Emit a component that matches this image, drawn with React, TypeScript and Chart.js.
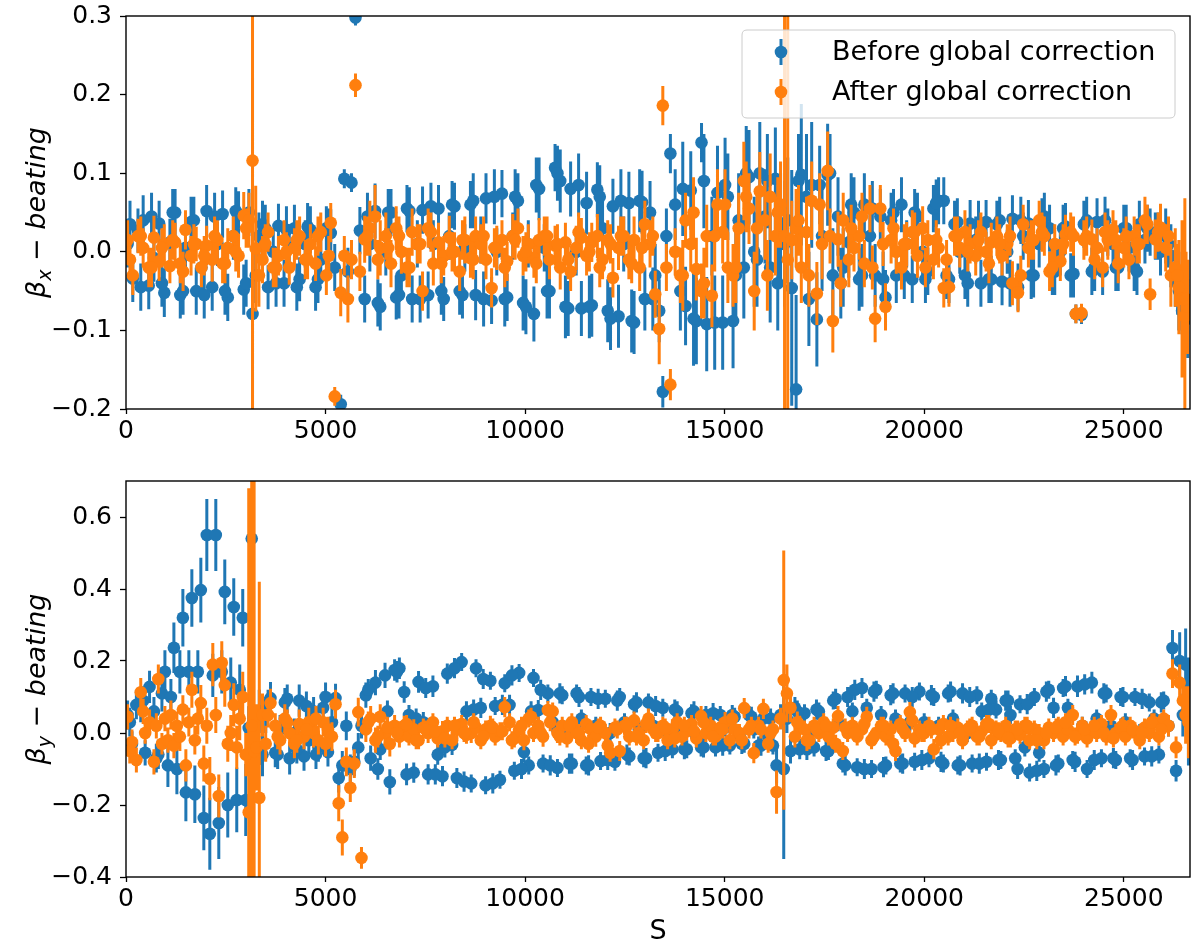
import React, { useEffect, useRef } from 'react';
import { Chart, registerables } from 'chart.js';

Chart.register(...registerables);

const BLUE = '#1f77b4';
const ORANGE = '#ff7f0e';
const FONT = "'DejaVu Sans', sans-serif";

const LEGEND_LABELS = ['Before global correction', 'After global correction'];
const X_TICKS = [0, 5000, 10000, 15000, 20000, 25000];
const BX_TICKS = [-0.2, -0.1, 0.0, 0.1, 0.2, 0.3];
const BY_TICKS = [-0.4, -0.2, 0.0, 0.2, 0.4, 0.6];
const S_MAX = 26659;

// ---------- top panel: beta_x beating (main BPM set) ----------
const S_X = [
  40, 170, 300, 430, 570, 700, 830, 960, 1100, 1230,
  1360, 1490, 1630, 1760, 1890, 2020, 2160, 2290, 2420, 2550,
  2690, 2820, 2950, 3080, 3170, 3250, 3330, 3420, 3560, 3690,
  3820, 3960, 4090, 4220, 4350, 4490, 4620, 4750, 4880, 5020,
  5130, 5230, 5380, 5470, 5560, 5650, 5750, 5860, 5980, 6110,
  6240, 6370, 6510, 6640, 6770, 6900, 7040, 7170, 7300, 7430,
  7570, 7700, 7830, 7960, 8100, 8230, 8360, 8490, 8630, 8760,
  8890, 9020, 9160, 9290, 9420, 9550, 9690, 9820, 9950, 10080,
  10220, 10350, 10480, 10610, 10750, 10880, 11010, 11140, 11280, 11410,
  11540, 11670, 11810, 11940, 12070, 12200, 12340, 12470, 12600, 12730,
  12870, 13000, 13130, 13260, 13360, 13450, 13540, 13640, 13760, 13890,
  14020, 14150, 14290, 14420, 14550, 14680, 14820, 14950, 15080, 15210,
  15350, 15480, 15610, 15740, 15880, 16010, 16140, 16270, 16400, 16500,
  16580, 16680, 16790, 16920, 17050, 17180, 17310, 17440, 17580, 17710,
  17840, 17970, 18110, 18240, 18370, 18500, 18640, 18770, 18900, 19030,
  19170, 19300, 19430, 19560, 19700, 19830, 19960, 20090, 20230, 20360,
  20490, 20620, 20760, 20890, 21020, 21150, 21290, 21420, 21550, 21680,
  21820, 21950, 22080, 22210, 22350, 22480, 22610, 22740, 22880, 23010,
  23140, 23270, 23410, 23540, 23670, 23800, 23940, 24070, 24200, 24330,
  24470, 24600, 24730, 24860, 25000, 25130, 25260, 25390, 25530, 25660,
  25790, 25920, 26050, 26180, 26290, 26380, 26460, 26530, 26600,
];

const BX_BEFORE = [
  0.01, -0.034, 0.027, 0.04, -0.043, -0.008, 0.036, -0.052, 0.012, 0.05,
  -0.055, 0.005, 0.038, -0.05, -0.02, 0.052, -0.045, 0.01, 0.048, -0.058,
  0.02, 0.047, -0.048, 0.05, -0.079, -0.03, 0.02, 0.035, -0.045, 0.0,
  0.033, -0.04, 0.005, 0.03, -0.035, 0.01, 0.028, -0.045, -0.01, 0.03,
  0.024, -0.02, -0.194, 0.093, -0.025, 0.088, 0.298, 0.027, -0.06, 0.01,
  0.052, -0.07, 0.0, 0.05, -0.058, -0.03, 0.055, -0.06, 0.01, 0.053,
  -0.055, 0.01, 0.055, -0.06, 0.02, 0.058, -0.05, 0.005, 0.06, -0.055,
  0.015, 0.068, -0.062, 0.0, 0.074, -0.058, 0.02, 0.065, -0.065, 0.01,
  -0.079, 0.08, 0.005, -0.05, 0.107, 0.09, -0.07, 0.08, 0.0, -0.072,
  0.062, -0.068, 0.079, 0.03, -0.075, 0.058, -0.082, 0.01, 0.062, -0.09,
  0.065, -0.06, 0.05, -0.03, -0.075, -0.178, 0.02, 0.125, 0.06, -0.05,
  -0.069, 0.078, -0.088, 0.139, -0.092, 0.02, 0.075, -0.09, 0.07, -0.088,
  0.04, -0.02, 0.095, 0.0, 0.1, 0.045, -0.02, 0.093, 0.03, 0.01,
  0.04, -0.046, -0.175, 0.098, 0.07, 0.085, -0.086, 0.02, 0.098, -0.03,
  0.045, -0.02, 0.012, 0.05, -0.035, 0.06, 0.02, -0.03, 0.045, -0.058,
  0.04, -0.03, 0.06, 0.01, -0.035, 0.045, 0.0, -0.025, 0.055, 0.065,
  0.065, -0.035, 0.035, 0.0, -0.03, 0.036, 0.015, -0.04, 0.038, -0.035,
  0.035, -0.038, 0.0, 0.042, -0.045, 0.02, 0.036, -0.03, 0.01, 0.045,
  0.03, -0.025, 0.0, 0.032, -0.03, -0.079, -0.08, 0.04, -0.025, 0.038,
  -0.025, 0.025, 0.01, -0.02, 0.03, 0.005, -0.02, 0.035, 0.015, 0.025,
  0.02, 0.0, 0.02, -0.005, -0.03, -0.05, -0.075, -0.06, -0.085,
];

const BX_AFTER = [
  0.015, -0.03, 0.02, 0.005, -0.02, 0.018, -0.012, 0.01, -0.018, 0.012,
  -0.015, 0.028, -0.005, 0.01, -0.02, 0.008, -0.01, 0.015, -0.015, 0.005,
  0.02, -0.005, 0.046, 0.04, 0.116, 0.004, -0.03, -0.01, 0.025, -0.02,
  -0.005, 0.015, -0.02, 0.005, 0.02, -0.01, 0.01, -0.015, 0.025, -0.03,
  0.037, -0.184, -0.052, -0.005, -0.06, -0.01, 0.212, -0.025, 0.016, 0.03,
  0.045, 0.005, 0.02, -0.015, 0.03, 0.0, -0.02, 0.025, 0.01, -0.05,
  0.03, -0.015, 0.012, -0.005, 0.018, 0.0, -0.025, 0.015, -0.008, 0.02,
  0.01, -0.01, -0.046, 0.005, 0.015, -0.012, 0.02, 0.03, -0.005, 0.01,
  -0.008, 0.015, 0.02, -0.01, 0.008, -0.02, 0.012, -0.025, 0.005, 0.018,
  -0.005, 0.012, 0.02, -0.01, 0.015, -0.033, 0.005, 0.02, -0.01, 0.015,
  -0.02, 0.035, 0.01, -0.054, -0.098, 0.186, -0.02, -0.169, 0.0, -0.03,
  0.04, 0.01, -0.022, -0.05, 0.02, -0.056, 0.06, 0.025, -0.02, -0.03,
  0.03, 0.09, 0.055, -0.05, 0.077, 0.04, 0.07, 0.02, 0.06, 0.02,
  -0.01, 0.015, 0.03, -0.02, 0.025, 0.065, -0.053, 0.01, 0.103, -0.088,
  0.016, 0.04, -0.01, 0.005, 0.02, -0.015, 0.055, -0.085, 0.055, -0.07,
  0.015, 0.0, -0.02, 0.01, 0.025, -0.005, 0.03, 0.015, -0.01, 0.005,
  -0.046, -0.045, 0.02, 0.005, 0.025, 0.01, -0.005, 0.025, 0.0, 0.012,
  0.02, -0.005, 0.01, -0.04, -0.052, 0.035, 0.005, 0.015, 0.04, 0.02,
  -0.025, 0.01, -0.012, 0.022, 0.025, -0.079, -0.078, 0.02, 0.016, 0.005,
  -0.02, 0.015, 0.028, -0.015, 0.005, -0.01, 0.02, 0.01, 0.04, -0.054,
  0.016, 0.031, 0.005, -0.03, -0.02, -0.045, -0.06, -0.082, -0.07,
];

const BX_BEFORE_ERR = [
  0.03, 0.03, 0.028, 0.032, 0.03, 0.03, 0.029, 0.031, 0.03, 0.03,
  0.03, 0.028, 0.032, 0.03, 0.03, 0.033, 0.03, 0.028, 0.03, 0.03,
  0.03, 0.03, 0.032, 0.03, 0.3, 0.035, 0.03, 0.03, 0.028, 0.03,
  0.028, 0.03, 0.03, 0.03, 0.028, 0.03, 0.03, 0.03, 0.03, 0.028,
  0.03, 0.03, 0.012, 0.012, 0.03, 0.012, 0.01, 0.03, 0.03, 0.035,
  0.035, 0.03, 0.03, 0.03, 0.028, 0.03, 0.03, 0.03, 0.03, 0.03,
  0.03, 0.03, 0.03, 0.028, 0.03, 0.03, 0.03, 0.03, 0.03, 0.032,
  0.03, 0.032, 0.03, 0.03, 0.03, 0.03, 0.03, 0.035, 0.035, 0.03,
  0.035, 0.04, 0.03, 0.035, 0.03, 0.04, 0.04, 0.035, 0.03, 0.035,
  0.04, 0.04, 0.035, 0.035, 0.04, 0.035, 0.04, 0.035, 0.04, 0.04,
  0.04, 0.04, 0.04, 0.04, 0.04, 0.02, 0.035, 0.025, 0.045, 0.05,
  0.05, 0.05, 0.055, 0.025, 0.06, 0.05, 0.06, 0.06, 0.055, 0.06,
  0.06, 0.065, 0.06, 0.07, 0.065, 0.06, 0.07, 0.065, 0.07, 0.08,
  0.08, 0.15, 0.12, 0.09, 0.08, 0.08, 0.06, 0.07, 0.065, 0.06,
  0.05, 0.05, 0.045, 0.045, 0.04, 0.04, 0.04, 0.04, 0.035, 0.035,
  0.035, 0.035, 0.035, 0.03, 0.03, 0.03, 0.03, 0.03, 0.03, 0.03,
  0.03, 0.03, 0.03, 0.028, 0.03, 0.03, 0.03, 0.03, 0.028, 0.03,
  0.03, 0.03, 0.028, 0.03, 0.03, 0.03, 0.03, 0.028, 0.03, 0.03,
  0.03, 0.03, 0.03, 0.03, 0.028, 0.012, 0.012, 0.03, 0.03, 0.03,
  0.03, 0.03, 0.028, 0.03, 0.03, 0.03, 0.03, 0.03, 0.03, 0.03,
  0.03, 0.03, 0.035, 0.04, 0.04, 0.05, 0.03, 0.05, 0.05,
];

const BX_AFTER_ERR = [
  0.025, 0.025, 0.022, 0.025, 0.025, 0.028, 0.025, 0.025, 0.022, 0.025,
  0.025, 0.025, 0.025, 0.022, 0.025, 0.025, 0.028, 0.025, 0.025, 0.025,
  0.025, 0.028, 0.03, 0.035, 0.6, 0.08, 0.04, 0.03, 0.025, 0.025,
  0.025, 0.025, 0.022, 0.025, 0.025, 0.025, 0.025, 0.022, 0.025, 0.025,
  0.025, 0.012, 0.03, 0.025, 0.03, 0.025, 0.015, 0.025, 0.03, 0.035,
  0.04, 0.035, 0.03, 0.03, 0.028, 0.028, 0.025, 0.03, 0.025, 0.025,
  0.025, 0.028, 0.025, 0.025, 0.028, 0.025, 0.025, 0.03, 0.025, 0.025,
  0.025, 0.025, 0.025, 0.028, 0.025, 0.025, 0.028, 0.025, 0.025, 0.025,
  0.025, 0.028, 0.025, 0.025, 0.025, 0.028, 0.025, 0.025, 0.028, 0.025,
  0.025, 0.025, 0.028, 0.025, 0.025, 0.025, 0.028, 0.025, 0.025, 0.03,
  0.03, 0.03, 0.03, 0.03, 0.045, 0.025, 0.03, 0.02, 0.03, 0.035,
  0.035, 0.035, 0.04, 0.035, 0.04, 0.04, 0.045, 0.04, 0.045, 0.04,
  0.045, 0.05, 0.045, 0.05, 0.05, 0.05, 0.055, 0.05, 0.055, 0.9,
  0.8, 0.05, 0.05, 0.045, 0.045, 0.05, 0.04, 0.045, 0.05, 0.04,
  0.035, 0.035, 0.035, 0.03, 0.03, 0.03, 0.03, 0.03, 0.03, 0.03,
  0.03, 0.028, 0.028, 0.028, 0.028, 0.028, 0.028, 0.025, 0.025, 0.025,
  0.025, 0.025, 0.025, 0.025, 0.028, 0.025, 0.025, 0.025, 0.025, 0.025,
  0.025, 0.025, 0.025, 0.028, 0.025, 0.025, 0.025, 0.025, 0.025, 0.025,
  0.025, 0.025, 0.025, 0.025, 0.025, 0.012, 0.012, 0.025, 0.025, 0.025,
  0.025, 0.025, 0.025, 0.025, 0.025, 0.025, 0.025, 0.025, 0.03, 0.02,
  0.025, 0.03, 0.03, 0.04, 0.05, 0.06, 0.1, 0.15, 0.06,
];

// ---------- top panel: additional BPM set ----------
const S_X2 = [
  100, 370, 640, 900, 1170, 1430, 1700, 1960, 2220, 2480, 2750, 3010,
  3490, 3760, 4020, 4280, 4550, 4810, 5080,
  6050, 6310, 6570, 6840, 7100, 7370, 7640, 7900, 8170, 8430,
  8700, 8960, 9230, 9490, 9750, 10020, 10280, 10550, 10810, 11080,
  11340, 11610, 11870, 12140, 12400, 12670, 12930, 13200,
  13950, 14220, 14480, 14750, 15010, 15280, 15540, 15810, 16070, 16330,
  16850, 17110, 17380, 17640, 17910, 18170, 18440, 18700, 18970, 19230,
  19500, 19760, 20030, 20300, 20560, 20830, 21090, 21360, 21620, 21890,
  22150, 22420, 22680, 22950, 23210, 23480, 23740, 24000, 24270, 24530,
  24800, 25060, 25330, 25590, 25860, 26120, 26350, 26560,
];

const BX_BEFORE2 = [
  0.035, -0.045, 0.045, -0.04, 0.05, -0.05, 0.04, -0.055, 0.045, -0.05, 0.052, -0.04,
  0.03, -0.04, 0.028, -0.045, 0.032, -0.035, 0.025,
  0.045, -0.065, 0.05, -0.055, 0.052, -0.06, 0.058, -0.05, 0.06, -0.055,
  0.065, -0.06, 0.07, -0.06, 0.07, -0.07, 0.085, -0.05, 0.1, -0.072,
  0.085, -0.07, 0.07, -0.085, 0.065, -0.088, 0.063, -0.06,
  0.08, -0.085, 0.09, -0.09, 0.085, -0.03, 0.1, -0.01, 0.09, -0.04,
  0.09, -0.06, 0.085, 0.1, -0.04, 0.06, -0.03, 0.055, -0.035, 0.05,
  -0.03, 0.05, -0.035, 0.062, -0.03, 0.038, -0.04, 0.035, -0.035, 0.04,
  -0.04, 0.04, -0.03, 0.038, -0.025, 0.03, -0.028, 0.035, -0.02, 0.04,
  -0.02, 0.03, -0.025, 0.03, 0.02, 0.01, -0.04, -0.07,
];

const BX_AFTER2 = [
  -0.01, 0.02, -0.02, 0.005, 0.015, -0.025, 0.01, -0.005, 0.02, -0.015, 0.0, 0.03,
  0.01, -0.02, 0.0, 0.015, -0.01, 0.02, -0.005,
  0.02, -0.01, 0.005, 0.02, -0.02, 0.01, 0.025, -0.015, 0.0, 0.015,
  -0.01, 0.02, 0.005, -0.02, 0.015, 0.0, -0.015, 0.02, 0.01, -0.01,
  0.025, 0.0, -0.02, 0.01, 0.02, -0.015, 0.005, 0.02,
  -0.03, 0.05, -0.04, 0.02, 0.06, -0.02, 0.07, 0.03, -0.03, 0.05,
  0.04, -0.03, 0.06, 0.02, -0.04, 0.03, 0.045, -0.02, 0.01, 0.03,
  0.01, 0.025, -0.02, 0.015, -0.01, 0.02, 0.0, 0.015, -0.015, 0.01,
  0.02, -0.03, 0.015, 0.025, -0.02, 0.01, 0.02, 0.015, -0.01, 0.025,
  0.015, 0.02, 0.01, 0.035, 0.025, 0.02, -0.03, -0.06,
];

const BX_BEFORE2_ERR = [
  0.03, 0.03, 0.03, 0.03, 0.03, 0.03, 0.03, 0.03, 0.03, 0.03, 0.03, 0.03,
  0.03, 0.03, 0.03, 0.03, 0.03, 0.03, 0.03,
  0.03, 0.03, 0.03, 0.03, 0.03, 0.03, 0.03, 0.03, 0.03, 0.03,
  0.035, 0.035, 0.035, 0.035, 0.035, 0.035, 0.035, 0.035, 0.035, 0.035,
  0.04, 0.04, 0.04, 0.04, 0.04, 0.04, 0.04, 0.04,
  0.06, 0.06, 0.06, 0.06, 0.06, 0.06, 0.06, 0.06, 0.06, 0.06,
  0.06, 0.06, 0.05, 0.05, 0.045, 0.04, 0.04, 0.035, 0.035, 0.03,
  0.03, 0.03, 0.03, 0.03, 0.03, 0.03, 0.03, 0.03, 0.03, 0.03,
  0.03, 0.03, 0.03, 0.03, 0.03, 0.03, 0.03, 0.03, 0.03, 0.03,
  0.03, 0.03, 0.03, 0.03, 0.03, 0.03, 0.04, 0.05,
];

const BX_AFTER2_ERR = [
  0.025, 0.025, 0.025, 0.025, 0.025, 0.025, 0.025, 0.025, 0.025, 0.025, 0.025, 0.025,
  0.025, 0.025, 0.025, 0.025, 0.025, 0.025, 0.025,
  0.025, 0.025, 0.025, 0.025, 0.025, 0.025, 0.025, 0.025, 0.025, 0.025,
  0.025, 0.025, 0.025, 0.025, 0.025, 0.025, 0.025, 0.025, 0.025, 0.025,
  0.025, 0.025, 0.025, 0.025, 0.025, 0.025, 0.025, 0.025,
  0.045, 0.045, 0.045, 0.045, 0.045, 0.045, 0.045, 0.045, 0.045, 0.045,
  0.045, 0.04, 0.04, 0.035, 0.03, 0.03, 0.03, 0.028, 0.028, 0.025,
  0.025, 0.025, 0.025, 0.025, 0.025, 0.025, 0.025, 0.025, 0.025, 0.025,
  0.025, 0.025, 0.025, 0.025, 0.025, 0.025, 0.025, 0.025, 0.025, 0.025,
  0.025, 0.025, 0.025, 0.025, 0.025, 0.025, 0.04, 0.06,
];

// ---------- bottom panel: beta_y beating (main BPM set) ----------
const S_Y = [
  40, 150, 260, 370, 480, 590, 700, 810,
  900, 975, 1050, 1125, 1200, 1275, 1350, 1425, 1500, 1575,
  1650, 1725, 1800, 1875, 1950, 2025, 2100, 2175, 2250, 2325,
  2400, 2475, 2550, 2625, 2700, 2775, 2850, 2925, 3000, 3075,
  3150, 3210, 3270, 3340, 3420, 3500,
  3620, 3740, 3860, 3980, 4100, 4220, 4340, 4460, 4580, 4700,
  4820, 4940, 5060, 5160, 5250, 5330, 5420, 5520, 5620, 5720,
  5820, 5900, 6010, 6130, 6250, 6370, 6490, 6610, 6730, 6850,
  6970, 7090, 7210, 7330, 7450, 7570, 7690, 7810, 7930, 8050,
  8170, 8290, 8410, 8530, 8650, 8770, 8890, 9010, 9130, 9250,
  9370, 9490, 9610, 9730, 9850, 9970, 10090, 10210, 10330, 10450,
  10570, 10690, 10810, 10930, 11050, 11170, 11290, 11410, 11530, 11650,
  11770, 11890, 12010, 12130, 12250, 12370, 12490, 12610, 12730, 12850,
  12970, 13090, 13210, 13330, 13450, 13570, 13690, 13810, 13930, 14050,
  14170, 14290, 14410, 14530, 14650, 14770, 14890, 15010, 15130, 15250,
  15370, 15490, 15610, 15730, 15850, 15970, 16090, 16210, 16300, 16400,
  16480, 16560, 16650, 16760, 16880, 17000, 17120, 17240, 17360, 17480,
  17600, 17720, 17840, 17960, 18080, 18200, 18320, 18440, 18560, 18680,
  18800, 18920, 19040, 19160, 19280, 19400, 19520, 19640, 19760, 19880,
  20000, 20120, 20240, 20360, 20480, 20600, 20720, 20840, 20960, 21080,
  21200, 21320, 21440, 21560, 21680, 21800, 21920, 22040, 22160, 22280,
  22400, 22520, 22640, 22760, 22880, 23000, 23120, 23240, 23360, 23480,
  23600, 23720, 23840, 23960, 24080, 24200, 24320, 24440, 24560, 24680,
  24800, 24920, 25040, 25160, 25280, 25400, 25520, 25640, 25760, 25880,
  26000, 26120, 26220, 26310, 26400, 26480, 26550, 26620,
];

const BY_BEFORE = [
  0.05, -0.03, 0.078, 0.07, -0.055, 0.128, 0.06, -0.06,
  0.11, 0.17, -0.09, 0.1, 0.237, -0.1, 0.17, 0.32, -0.165, 0.17,
  0.375, -0.17, 0.17, 0.397, -0.236, 0.55, -0.28, 0.16, 0.55, -0.25,
  0.17, 0.392, -0.2, 0.14, 0.35, -0.186, 0.12, 0.32, -0.186, 0.014,
  0.54, -0.01, -0.075, 0.06, -0.06, 0.05,
  0.097, -0.055, 0.01, 0.085, -0.07, 0.0, 0.09, -0.065, -0.02, 0.06,
  -0.04, 0.07, -0.053, 0.03, 0.097, -0.125, -0.09, 0.02, -0.1, -0.08,
  -0.04, 0.02, 0.105, -0.07, 0.14, -0.045, 0.16, -0.136, 0.175, 0.18,
  0.114, 0.05, -0.11, 0.142, 0.03, -0.115, 0.13, -0.06, -0.12, 0.165,
  -0.033, -0.125, 0.197, 0.06, -0.14, 0.18, 0.07, -0.145, 0.145, 0.075,
  -0.13, 0.138, 0.078, -0.105, 0.167, -0.053, -0.09, 0.153, 0.064, -0.085,
  0.11, 0.03, -0.097, 0.105, 0.01, -0.085, 0.11, 0.04, -0.09, 0.1,
  0.02, -0.078, 0.095, 0.0, -0.08, 0.1, 0.03, -0.065, 0.08, 0.01,
  -0.07, 0.085, 0.02, -0.055, 0.07, 0.0, -0.045, 0.06, 0.01, -0.045,
  0.055, -0.01, -0.04, 0.05, 0.0, -0.04, 0.05, 0.015, -0.035, 0.045,
  -0.005, -0.03, 0.05, 0.01, -0.035, 0.04, -0.01, -0.035, -0.09, 0.05,
  -0.1, 0.04, -0.05, 0.07, -0.045, 0.055, 0.0, -0.04, 0.06, 0.02,
  -0.05, 0.09, 0.03, -0.085, 0.1, 0.06, -0.095, 0.125, 0.07, -0.1,
  0.12, 0.05, -0.09, 0.105, 0.04, -0.085, 0.11, 0.03, -0.08, 0.115,
  0.03, -0.07, 0.1, 0.02, -0.085, 0.11, 0.04, -0.09, 0.11, 0.0,
  -0.085, 0.105, 0.06, -0.08, 0.095, 0.065, -0.075, 0.09, 0.05, -0.07,
  0.08, -0.04, -0.11, 0.1, -0.055, -0.1, 0.12, 0.07, -0.085, 0.125,
  0.07, -0.075, 0.13, 0.02, -0.1, 0.14, 0.04, -0.07, 0.11, 0.02,
  -0.075, 0.1, 0.03, -0.07, 0.1, 0.0, -0.065, 0.085, 0.04, -0.06,
  0.09, 0.02, 0.236, -0.105, 0.2, 0.05, 0.19, 0.06,
];

const BY_AFTER = [
  0.045, -0.025, -0.075, 0.113, 0.0, 0.03, -0.08, 0.15,
  -0.03, 0.04, -0.02, 0.05, -0.035, 0.02, -0.01, 0.065, -0.09, 0.03,
  0.12, -0.02, 0.04, 0.083, -0.085, 0.02, -0.127, 0.19, 0.05, -0.175,
  0.195, 0.133, -0.03, 0.0, 0.078, -0.04, 0.04, 0.1, -0.06, -0.22,
  0.02, -0.05, -0.04, -0.18, 0.05, -0.03,
  0.083, 0.02, -0.02, 0.04, 0.0, -0.03, 0.025, -0.01, 0.03, 0.0,
  -0.02, 0.03, 0.01, -0.01, 0.08, -0.195, -0.29, -0.08, -0.152, -0.085,
  0.058, -0.347, 0.01, 0.04, -0.02, 0.045, 0.0, -0.03, 0.02, -0.01,
  0.02, -0.01, 0.01, -0.02, 0.015, 0.0, 0.03, -0.015, 0.005, 0.02,
  -0.02, 0.01, 0.025, -0.005, 0.0, 0.015, -0.02, 0.01, 0.02, -0.01,
  0.005, 0.072, 0.03, -0.015, 0.01, -0.02, 0.04, 0.0, 0.02, -0.01,
  0.064, 0.06, 0.0, 0.02, -0.015, 0.03, 0.0, -0.02, 0.025, 0.01,
  -0.01, 0.02, 0.0, -0.055, 0.015, -0.05, 0.02, -0.01, 0.035, 0.0,
  -0.02, 0.04, 0.01, 0.0, 0.02, -0.02, 0.01, 0.03, -0.01, 0.005,
  0.025, -0.015, 0.047, 0.0, 0.02, -0.01, 0.015, 0.03, -0.02, 0.01,
  0.0, 0.069, 0.01, -0.056, 0.02, 0.067, -0.03, 0.01, -0.164, 0.04,
  0.147, 0.11, 0.07, -0.01, 0.02, 0.01, -0.02, 0.02, 0.0, 0.03,
  -0.01, 0.015, 0.047, -0.05, 0.0, 0.02, -0.01, 0.01, 0.045, -0.02,
  0.0, 0.02, -0.01, 0.01, -0.05, 0.025, 0.0, 0.058, -0.015, 0.01,
  0.0, 0.02, -0.045, 0.01, 0.025, -0.01, 0.0, 0.015, -0.02, 0.01,
  0.02, -0.01, 0.005, 0.025, -0.02, 0.01, 0.0, 0.02, -0.015, 0.01,
  -0.005, 0.02, -0.02, 0.01, 0.0, -0.02, 0.015, 0.0, 0.02, -0.01,
  0.01, 0.05, -0.005, 0.02, -0.015, 0.01, 0.0, 0.025, -0.01, 0.05,
  0.0, 0.015, -0.01, 0.02, 0.005, -0.02, 0.015, 0.0, 0.03, -0.01,
  0.04, 0.02, 0.165, -0.04, 0.14, 0.09, 0.05, 0.03,
];

const BY_BEFORE_ERR = [
  0.04, 0.035, 0.04, 0.04, 0.035, 0.045, 0.04, 0.04,
  0.05, 0.06, 0.06, 0.05, 0.07, 0.07, 0.06, 0.08, 0.08, 0.06,
  0.08, 0.08, 0.06, 0.09, 0.09, 0.1, 0.1, 0.06, 0.1, 0.1,
  0.06, 0.09, 0.09, 0.07, 0.08, 0.09, 0.07, 0.08, 0.1, 0.06,
  0.1, 0.08, 0.07, 0.06, 0.06, 0.05,
  0.045, 0.04, 0.04, 0.04, 0.045, 0.04, 0.045, 0.04, 0.04, 0.04,
  0.04, 0.045, 0.04, 0.04, 0.04, 0.04, 0.04, 0.04, 0.04, 0.04,
  0.04, 0.035, 0.035, 0.035, 0.035, 0.03, 0.035, 0.035, 0.03, 0.03,
  0.03, 0.028, 0.028, 0.03, 0.028, 0.028, 0.03, 0.028, 0.028, 0.028,
  0.028, 0.028, 0.025, 0.028, 0.025, 0.025, 0.028, 0.025, 0.025, 0.025,
  0.025, 0.025, 0.028, 0.025, 0.025, 0.028, 0.025, 0.025, 0.028, 0.025,
  0.025, 0.028, 0.025, 0.025, 0.025, 0.028, 0.025, 0.025, 0.025, 0.025,
  0.025, 0.025, 0.025, 0.028, 0.025, 0.025, 0.025, 0.025, 0.025, 0.025,
  0.025, 0.025, 0.025, 0.025, 0.025, 0.025, 0.025, 0.028, 0.025, 0.025,
  0.025, 0.025, 0.025, 0.025, 0.025, 0.025, 0.025, 0.025, 0.025, 0.025,
  0.025, 0.025, 0.025, 0.025, 0.025, 0.025, 0.025, 0.025, 0.05, 0.03,
  0.25, 0.04, 0.035, 0.03, 0.028, 0.025, 0.025, 0.025, 0.025, 0.025,
  0.025, 0.025, 0.025, 0.025, 0.028, 0.025, 0.025, 0.028, 0.025, 0.025,
  0.025, 0.025, 0.025, 0.028, 0.025, 0.025, 0.025, 0.025, 0.025, 0.025,
  0.025, 0.025, 0.025, 0.025, 0.025, 0.025, 0.025, 0.025, 0.028, 0.025,
  0.025, 0.025, 0.025, 0.025, 0.025, 0.025, 0.025, 0.028, 0.025, 0.025,
  0.025, 0.025, 0.025, 0.025, 0.025, 0.025, 0.025, 0.028, 0.025, 0.025,
  0.025, 0.025, 0.03, 0.025, 0.025, 0.03, 0.025, 0.025, 0.025, 0.025,
  0.025, 0.025, 0.025, 0.025, 0.025, 0.025, 0.025, 0.025, 0.025, 0.025,
  0.025, 0.03, 0.05, 0.03, 0.08, 0.06, 0.1, 0.15,
];

const BY_AFTER_ERR = [
  0.035, 0.035, 0.035, 0.04, 0.03, 0.035, 0.035, 0.04,
  0.03, 0.035, 0.035, 0.04, 0.035, 0.04, 0.04, 0.04, 0.045, 0.04,
  0.05, 0.04, 0.045, 0.05, 0.05, 0.05, 0.06, 0.06, 0.05, 0.06,
  0.06, 0.06, 0.05, 0.05, 0.06, 0.06, 0.06, 0.07, 0.06, 0.9,
  1.0, 0.9, 0.12, 0.6, 0.06, 0.05,
  0.04, 0.035, 0.04, 0.04, 0.035, 0.04, 0.04, 0.035, 0.04, 0.04,
  0.04, 0.04, 0.035, 0.04, 0.04, 0.05, 0.05, 0.04, 0.04, 0.04,
  0.04, 0.03, 0.035, 0.035, 0.035, 0.035, 0.035, 0.035, 0.03, 0.03,
  0.028, 0.025, 0.028, 0.025, 0.025, 0.028, 0.025, 0.025, 0.028, 0.025,
  0.025, 0.028, 0.025, 0.025, 0.028, 0.025, 0.025, 0.025, 0.028, 0.025,
  0.025, 0.028, 0.025, 0.025, 0.025, 0.028, 0.025, 0.025, 0.025, 0.028,
  0.025, 0.025, 0.028, 0.025, 0.025, 0.025, 0.028, 0.025, 0.025, 0.025,
  0.028, 0.025, 0.025, 0.025, 0.025, 0.028, 0.025, 0.025, 0.025, 0.025,
  0.025, 0.028, 0.025, 0.025, 0.025, 0.025, 0.028, 0.025, 0.025, 0.025,
  0.025, 0.025, 0.028, 0.025, 0.025, 0.025, 0.025, 0.028, 0.025, 0.025,
  0.025, 0.028, 0.025, 0.028, 0.025, 0.028, 0.025, 0.025, 0.06, 0.03,
  0.36, 0.08, 0.04, 0.03, 0.028, 0.025, 0.025, 0.025, 0.025, 0.025,
  0.025, 0.025, 0.028, 0.025, 0.025, 0.025, 0.025, 0.025, 0.028, 0.025,
  0.025, 0.025, 0.025, 0.025, 0.028, 0.025, 0.025, 0.028, 0.025, 0.025,
  0.025, 0.025, 0.028, 0.025, 0.025, 0.025, 0.025, 0.025, 0.025, 0.025,
  0.025, 0.025, 0.025, 0.025, 0.025, 0.025, 0.025, 0.025, 0.025, 0.025,
  0.025, 0.025, 0.025, 0.025, 0.025, 0.025, 0.025, 0.025, 0.025, 0.025,
  0.025, 0.028, 0.025, 0.025, 0.025, 0.025, 0.025, 0.025, 0.025, 0.028,
  0.025, 0.025, 0.025, 0.025, 0.025, 0.025, 0.025, 0.025, 0.025, 0.025,
  0.025, 0.03, 0.04, 0.03, 0.05, 0.05, 0.08, 0.1,
];

// ---------- bottom panel: additional BPM set ----------
const S_Y2 = [
  95, 430, 760,
  3560, 3800, 4040, 4280, 4520, 4760, 5000,
  6070, 6310, 6550, 6790, 7030, 7270, 7510, 7750, 7990, 8230,
  8470, 8710, 8950, 9190, 9430, 9670, 9910, 10150, 10390, 10630,
  10870, 11110, 11350, 11590, 11830, 12070, 12310, 12550, 12790, 13030,
  13270, 13510, 13750, 13990, 14230, 14470, 14710, 14950, 15190, 15430,
  15670, 15910, 16150,
  16820, 17060, 17300, 17540, 17780, 18020, 18260, 18500, 18740, 18980,
  19220, 19460, 19700, 19940,
  20180, 20420, 20660, 20900, 21140, 21380, 21620, 21860, 22100, 22340,
  22580, 22820, 23060, 23300, 23540, 23780, 24020, 24260, 24500, 24740,
  24980, 25220, 25460, 25700, 25940,
];

const BY_BEFORE2 = [
  0.03, 0.09, -0.07,
  0.08, -0.06, 0.095, -0.045, 0.075, -0.06, 0.1,
  0.12, -0.1, 0.06, 0.17, -0.115, 0.04, 0.125, -0.115, -0.04, 0.18,
  -0.135, 0.065, 0.15, -0.14, 0.078, 0.16, -0.1, 0.06, 0.12, -0.09,
  0.11, -0.085, 0.1, -0.09, 0.095, -0.075, 0.09, -0.06, 0.085, -0.07,
  0.075, -0.05, 0.065, -0.045, 0.06, -0.04, 0.055, -0.035, 0.05, -0.03,
  0.045, -0.035, 0.04,
  0.06, -0.045, 0.065, -0.05, 0.095, -0.09, 0.12, -0.1, 0.115, -0.095,
  0.11, -0.085, 0.1, -0.075,
  0.105, -0.08, 0.115, -0.09, 0.1, -0.085, 0.065, -0.075, 0.09, -0.1,
  0.08, -0.105, 0.115, -0.09, 0.13, -0.08, 0.135, -0.075, 0.11, -0.07,
  0.1, -0.075, 0.095, -0.065, 0.085,
];

const BY_AFTER2 = [
  -0.05, 0.06, 0.02,
  0.05, -0.01, 0.03, -0.02, 0.01, 0.04, -0.03,
  0.03, -0.01, 0.015, 0.0, 0.025, -0.02, 0.01, 0.005, -0.015, 0.02,
  0.0, 0.03, -0.01, 0.015, 0.005, -0.02, 0.02, 0.045, 0.0, 0.03,
  -0.01, 0.02, 0.0, -0.03, 0.015, -0.035, 0.01, 0.02, -0.01, 0.025,
  0.0, 0.015, -0.015, 0.02, 0.005, 0.03, -0.01, 0.01, 0.04, -0.02,
  0.02, 0.01, 0.0,
  0.03, -0.02, 0.01, 0.02, -0.03, 0.015, 0.0, 0.025, -0.01, 0.02,
  -0.03, 0.01, 0.035, 0.0,
  0.01, -0.02, 0.02, 0.0, 0.015, -0.01, 0.025, 0.005, -0.015, 0.01,
  0.02, -0.02, 0.0, 0.015, 0.03, -0.01, 0.01, 0.02, 0.0, -0.015,
  0.02, 0.01, 0.0, 0.03, 0.01,
];

const BY_BEFORE2_ERR = [
  0.04, 0.04, 0.04,
  0.04, 0.04, 0.04, 0.04, 0.04, 0.04, 0.04,
  0.03, 0.03, 0.03, 0.03, 0.03, 0.028, 0.028, 0.028, 0.028, 0.028,
  0.028, 0.028, 0.028, 0.028, 0.028, 0.028, 0.028, 0.028, 0.028, 0.028,
  0.028, 0.028, 0.028, 0.028, 0.028, 0.028, 0.028, 0.028, 0.028, 0.028,
  0.028, 0.028, 0.028, 0.028, 0.028, 0.028, 0.028, 0.028, 0.028, 0.028,
  0.028, 0.028, 0.028,
  0.03, 0.03, 0.028, 0.028, 0.028, 0.028, 0.028, 0.028, 0.028, 0.028,
  0.028, 0.028, 0.028, 0.028,
  0.028, 0.028, 0.028, 0.028, 0.028, 0.028, 0.028, 0.028, 0.028, 0.028,
  0.028, 0.028, 0.028, 0.028, 0.028, 0.028, 0.028, 0.028, 0.028, 0.028,
  0.028, 0.028, 0.028, 0.028, 0.028,
];

const BY_AFTER2_ERR = [
  0.035, 0.035, 0.035,
  0.035, 0.035, 0.035, 0.035, 0.035, 0.035, 0.035,
  0.03, 0.03, 0.03, 0.025, 0.025, 0.025, 0.025, 0.025, 0.025, 0.025,
  0.025, 0.025, 0.025, 0.025, 0.025, 0.025, 0.025, 0.025, 0.025, 0.025,
  0.025, 0.025, 0.025, 0.025, 0.025, 0.025, 0.025, 0.025, 0.025, 0.025,
  0.025, 0.025, 0.025, 0.025, 0.025, 0.025, 0.025, 0.025, 0.025, 0.025,
  0.025, 0.025, 0.025,
  0.03, 0.03, 0.025, 0.025, 0.025, 0.025, 0.025, 0.025, 0.025, 0.025,
  0.025, 0.025, 0.025, 0.025,
  0.025, 0.025, 0.025, 0.025, 0.025, 0.025, 0.025, 0.025, 0.025, 0.025,
  0.025, 0.025, 0.025, 0.025, 0.025, 0.025, 0.025, 0.025, 0.025, 0.025,
  0.025, 0.025, 0.025, 0.025, 0.025,
];

// ---------- helpers ----------
function fmtY(v: number): string {
  const s = Math.abs(v).toFixed(1);
  return v < -1e-9 ? '\u2212' + s : s;
}

const errorBarPlugin = {
  id: 'errorBars',
  beforeDatasetDraw(chart: any, args: any) {
    const ds = chart.data.datasets[args.index];
    const errs: number[] | undefined = ds.errors;
    if (!errs) return;
    const { ctx, chartArea } = chart;
    const xs = chart.scales.x;
    const ys = chart.scales.y;
    ctx.save();
    ctx.beginPath();
    ctx.rect(chartArea.left, chartArea.top, chartArea.right - chartArea.left, chartArea.bottom - chartArea.top);
    ctx.clip();
    ctx.strokeStyle = ds.backgroundColor;
    ctx.lineWidth = 3;
    ctx.lineCap = 'butt';
    ctx.beginPath();
    ds.data.forEach((p: any, i: number) => {
      const e = errs[i] ?? 0;
      if (p.y === undefined || p.y === null) return;
      const px = xs.getPixelForValue(p.x);
      ctx.moveTo(px, ys.getPixelForValue(p.y - e));
      ctx.lineTo(px, ys.getPixelForValue(p.y + e));
    });
    ctx.stroke();
    ctx.restore();
  },
};

function drawYLabel(ctx: CanvasRenderingContext2D, cx: number, cy: number, sub: string) {
  const parts = [
    { t: '\u03b2', f: `italic 27px ${FONT}`, dy: 0 },
    { t: sub, f: `italic 19px ${FONT}`, dy: 6 },
    { t: ' \u2212 ', f: `27px ${FONT}`, dy: 0 },
    { t: 'beating', f: `italic 27px ${FONT}`, dy: 0 },
  ];
  ctx.save();
  ctx.translate(cx, cy);
  ctx.rotate(-Math.PI / 2);
  ctx.fillStyle = '#000';
  ctx.textBaseline = 'alphabetic';
  ctx.textAlign = 'left';
  let total = 0;
  const widths = parts.map((p) => {
    ctx.font = p.f;
    const w = ctx.measureText(p.t).width;
    total += w;
    return w;
  });
  let x = -total / 2;
  parts.forEach((p, i) => {
    ctx.font = p.f;
    ctx.fillText(p.t, x, 9 + p.dy);
    x += widths[i];
  });
  ctx.restore();
}

function makeFramePlugin(cfg: { sub: string; legend: boolean; xLabelY: number | null; legendDy: number }) {
  return {
    id: 'frame',
    afterDraw(chart: any) {
      const { ctx, chartArea } = chart;
      ctx.save();
      ctx.strokeStyle = '#000';
      ctx.lineWidth = 1.4;
      ctx.strokeRect(chartArea.left, chartArea.top, chartArea.right - chartArea.left, chartArea.bottom - chartArea.top);
      ctx.restore();

      drawYLabel(ctx, 36, (chartArea.top + chartArea.bottom) / 2, cfg.sub);

      if (cfg.xLabelY !== null) {
        ctx.save();
        ctx.fillStyle = '#000';
        ctx.font = `27px ${FONT}`;
        ctx.textAlign = 'center';
        ctx.textBaseline = 'middle';
        ctx.fillText('S', (chartArea.left + chartArea.right) / 2, cfg.xLabelY);
        ctx.restore();
      }

      if (cfg.legend) {
        const d = cfg.legendDy;
        const bx = 742, by = 30 + d, bw = 433, bh = 88, r = 5;
        ctx.save();
        ctx.beginPath();
        ctx.moveTo(bx + r, by);
        ctx.lineTo(bx + bw - r, by);
        ctx.quadraticCurveTo(bx + bw, by, bx + bw, by + r);
        ctx.lineTo(bx + bw, by + bh - r);
        ctx.quadraticCurveTo(bx + bw, by + bh, bx + bw - r, by + bh);
        ctx.lineTo(bx + r, by + bh);
        ctx.quadraticCurveTo(bx, by + bh, bx, by + bh - r);
        ctx.lineTo(bx, by + r);
        ctx.quadraticCurveTo(bx, by, bx + r, by);
        ctx.closePath();
        ctx.fillStyle = 'rgba(255,255,255,0.8)';
        ctx.fill();
        ctx.strokeStyle = '#cccccc';
        ctx.lineWidth = 1;
        ctx.stroke();
        const rows = [
          { label: LEGEND_LABELS[0], color: BLUE, y: 52 + d },
          { label: LEGEND_LABELS[1], color: ORANGE, y: 92 + d },
        ];
        rows.forEach((row) => {
          ctx.strokeStyle = row.color;
          ctx.lineWidth = 3;
          ctx.beginPath();
          ctx.moveTo(781, row.y - 13);
          ctx.lineTo(781, row.y + 13);
          ctx.stroke();
          ctx.fillStyle = row.color;
          ctx.beginPath();
          ctx.arc(781, row.y, 6.3, 0, Math.PI * 2);
          ctx.fill();
          ctx.fillStyle = '#000';
          ctx.font = `27px ${FONT}`;
          ctx.textAlign = 'left';
          ctx.textBaseline = 'middle';
          ctx.fillText(row.label, 832, row.y + 1);
        });
        ctx.restore();
      }
    },
  };
}

type SeriesSet = { s: number[]; before: number[]; after: number[]; beforeErr: number[]; afterErr: number[] };

type PanelCfg = {
  sets: SeriesSet[];
  yMin: number;
  yMax: number;
  yTicks: number[];
  padTop: number;
  xAxisH: number;
  sub: string;
  legend: boolean;
  legendDy: number;
  xLabelY: number | null;
};

function makeChart(canvas: HTMLCanvasElement, cfg: PanelCfg) {
  const pointStyle = {
    pointRadius: 6.3,
    pointHoverRadius: 6.3,
    pointBorderWidth: 0,
    borderWidth: 0,
    clip: 0,
  };
  const tickFont = { family: FONT, size: 25 };
  const beforePts: { x: number; y: number }[] = [];
  const afterPts: { x: number; y: number }[] = [];
  const beforeErr: number[] = [];
  const afterErr: number[] = [];
  cfg.sets.forEach((set) => {
    set.s.forEach((x, i) => {
      beforePts.push({ x, y: set.before[i] });
      afterPts.push({ x, y: set.after[i] });
      beforeErr.push(set.beforeErr[i] ?? 0);
      afterErr.push(set.afterErr[i] ?? 0);
    });
  });
  return new Chart(canvas, {
    type: 'scatter',
    data: {
      datasets: [
        {
          label: LEGEND_LABELS[0],
          data: beforePts,
          errors: beforeErr,
          backgroundColor: BLUE,
          borderColor: BLUE,
          order: 2,
          ...pointStyle,
        } as any,
        {
          label: LEGEND_LABELS[1],
          data: afterPts,
          errors: afterErr,
          backgroundColor: ORANGE,
          borderColor: ORANGE,
          order: 1,
          ...pointStyle,
        } as any,
      ],
    },
    options: {
      responsive: false,
      maintainAspectRatio: false,
      animation: false,
      devicePixelRatio: 1,
      events: [],
      layout: { padding: { top: cfg.padTop, right: 8, left: 0, bottom: 0 } },
      plugins: { legend: { display: false }, tooltip: { enabled: false } },
      scales: {
        x: {
          type: 'linear',
          min: 0,
          max: S_MAX,
          afterBuildTicks: (s: any) => {
            s.ticks = X_TICKS.map((v) => ({ value: v }));
          },
          afterFit: (s: any) => {
            s.height = cfg.xAxisH;
          },
          border: { display: false },
          grid: { display: true, drawOnChartArea: false, drawTicks: true, tickLength: 5, tickWidth: 1.3, tickColor: '#000' },
          ticks: {
            font: tickFont,
            color: '#000',
            padding: 2,
            maxRotation: 0,
            autoSkip: false,
            callback: (v: any) => String(v),
          },
        },
        y: {
          type: 'linear',
          min: cfg.yMin,
          max: cfg.yMax,
          afterBuildTicks: (s: any) => {
            s.ticks = cfg.yTicks.map((v) => ({ value: v }));
          },
          afterFit: (s: any) => {
            s.width = 126;
          },
          border: { display: false },
          grid: { display: true, drawOnChartArea: false, drawTicks: true, tickLength: 6, tickWidth: 1.3, tickColor: '#000' },
          ticks: {
            font: tickFont,
            color: '#000',
            padding: 8,
            autoSkip: false,
            callback: (v: any) => fmtY(Number(v)),
          },
        },
      },
    } as any,
    plugins: [
      errorBarPlugin as any,
      makeFramePlugin({ sub: cfg.sub, legend: cfg.legend, xLabelY: cfg.xLabelY, legendDy: cfg.legendDy }) as any,
    ],
  });
}

// top canvas is shifted up so that its plot area starts at page y = 16
const TOP_SHIFT = 7;

export default function App() {
  const topRef = useRef<HTMLCanvasElement>(null);
  const botRef = useRef<HTMLCanvasElement>(null);

  useEffect(() => {
    const c1 = makeChart(topRef.current as HTMLCanvasElement, {
      sets: [
        { s: S_X, before: BX_BEFORE, after: BX_AFTER, beforeErr: BX_BEFORE_ERR, afterErr: BX_AFTER_ERR },
        { s: S_X2, before: BX_BEFORE2, after: BX_AFTER2, beforeErr: BX_BEFORE2_ERR, afterErr: BX_AFTER2_ERR },
      ],
      yMin: -0.2,
      yMax: 0.3,
      yTicks: BX_TICKS,
      padTop: 16 + TOP_SHIFT,
      xAxisH: 31,
      sub: 'x',
      legend: true,
      legendDy: TOP_SHIFT,
      xLabelY: null,
    });
    const c2 = makeChart(botRef.current as HTMLCanvasElement, {
      sets: [
        { s: S_Y, before: BY_BEFORE, after: BY_AFTER, beforeErr: BY_BEFORE_ERR, afterErr: BY_AFTER_ERR },
        { s: S_Y2, before: BY_BEFORE2, after: BY_AFTER2, beforeErr: BY_BEFORE2_ERR, afterErr: BY_AFTER2_ERR },
      ],
      yMin: -0.4,
      yMax: 0.7,
      yTicks: BY_TICKS,
      padTop: 41,
      xAxisH: 72,
      sub: 'y',
      legend: false,
      legendDy: 0,
      xLabelY: 492,
    });
    return () => {
      c1.destroy();
      c2.destroy();
    };
  }, []);

  return (
    <div style={{ position: 'fixed', left: 0, top: 0, width: 1198, height: 949, background: '#fff', overflow: 'hidden' }}>
      <canvas
        ref={topRef}
        width={1198}
        height={440 + TOP_SHIFT}
        style={{ position: 'absolute', left: 0, top: -TOP_SHIFT, width: 1198, height: 440 + TOP_SHIFT }}
      />
      <canvas
        ref={botRef}
        width={1198}
        height={509}
        style={{ position: 'absolute', left: 0, top: 440, width: 1198, height: 509 }}
      />
    </div>
  );
}
